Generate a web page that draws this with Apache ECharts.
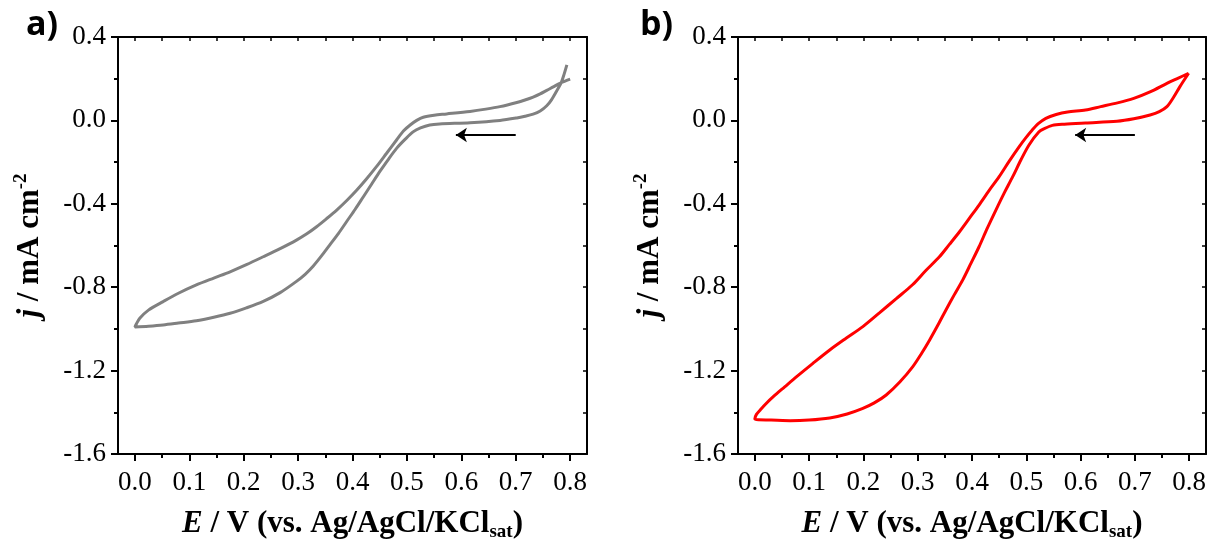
<!DOCTYPE html>
<html>
<head>
<meta charset="utf-8">
<style>
  html, body { margin: 0; padding: 0; background: #fff; }
  #chart { width: 1209px; height: 539px; }
</style>
<script src="https://cdn.jsdelivr.net/npm/echarts@6/dist/echarts.min.js"></script>
</head>
<body>
<div id="chart"></div>
<script>
// ---- Tick values ----
const xTicks = [0, 0.1, 0.2, 0.3, 0.4, 0.5, 0.6, 0.7, 0.8];
const xMinorTicks = [0.05, 0.15, 0.25, 0.35, 0.45, 0.55, 0.65, 0.75];
const xTopTicks = [0, 0.05, 0.1, 0.15, 0.2, 0.25, 0.3, 0.35, 0.4, 0.45, 0.5, 0.55, 0.6, 0.65, 0.7, 0.75, 0.8];
const yTicks = [-1.6, -1.2, -0.8, -0.4, 0, 0.4];
const yMinorTicks = [-1.4, -1.0, -0.6, -0.2, 0.2];
const yRightTicks = [-1.4, -1.2, -1.0, -0.8, -0.6, -0.4, -0.2, 0, 0.2];
const panelLabels = ['a)', 'b)'];

// ---- Panel a (grey CV) ----
const aPotential = [0.794, 0.789, 0.784, 0.775, 0.766, 0.757, 0.745, 0.732, 0.717, 0.702, 0.671, 0.616, 0.56, 0.542, 0.525, 0.512, 0.497, 0.481, 0.465, 0.45, 0.435, 0.42, 0.405, 0.389, 0.374, 0.358, 0.343, 0.328, 0.313, 0.297, 0.267, 0.236, 0.205, 0.175, 0.145, 0.113, 0.08, 0.052, 0.025, 0.0,
  0.003, 0.009, 0.025, 0.052, 0.08, 0.113, 0.145, 0.175, 0.205, 0.236, 0.267, 0.297, 0.316, 0.334, 0.352, 0.371, 0.39, 0.408, 0.426, 0.444, 0.462, 0.481, 0.494, 0.506, 0.518, 0.53, 0.55, 0.573, 0.616, 0.645, 0.671, 0.702, 0.717, 0.732, 0.745, 0.757, 0.77, 0.781, 0.80];
const aCurrent = [0.266, 0.222, 0.184, 0.14, 0.1, 0.07, 0.045, 0.03, 0.02, 0.012, 0.0, -0.011, -0.017, -0.022, -0.036, -0.054, -0.09, -0.134, -0.19, -0.246, -0.306, -0.366, -0.426, -0.486, -0.543, -0.598, -0.65, -0.698, -0.738, -0.772, -0.826, -0.868, -0.899, -0.925, -0.944, -0.961, -0.972, -0.981, -0.987, -0.991,
  -0.975, -0.949, -0.91, -0.869, -0.829, -0.789, -0.756, -0.726, -0.692, -0.654, -0.615, -0.574, -0.544, -0.51, -0.472, -0.43, -0.383, -0.334, -0.28, -0.222, -0.16, -0.094, -0.05, -0.022, 0.0, 0.015, 0.025, 0.031, 0.043, 0.054, 0.066, 0.086, 0.098, 0.112, 0.127, 0.144, 0.162, 0.178, 0.198];

// ---- Panel b (red CV) ----
const bPotential = [0.799, 0.783, 0.771, 0.759, 0.745, 0.728, 0.698, 0.667, 0.609, 0.57, 0.548, 0.533, 0.523, 0.505, 0.49, 0.475, 0.459, 0.444, 0.428, 0.413, 0.398, 0.383, 0.367, 0.352, 0.338, 0.322, 0.307, 0.291, 0.267, 0.242, 0.22, 0.199, 0.17, 0.138, 0.10, 0.065, 0.03, 0.0,
  0.003, 0.01, 0.02, 0.034, 0.055, 0.077, 0.107, 0.138, 0.168, 0.199, 0.23, 0.26, 0.291, 0.315, 0.34, 0.358, 0.377, 0.395, 0.413, 0.431, 0.45, 0.468, 0.487, 0.499, 0.511, 0.522, 0.536, 0.555, 0.576, 0.609, 0.637, 0.668, 0.698, 0.729, 0.759, 0.78, 0.799];
const bCurrent = [0.226, 0.162, 0.11, 0.066, 0.042, 0.026, 0.008, -0.004, -0.012, -0.018, -0.024, -0.04, -0.056, -0.118, -0.19, -0.27, -0.35, -0.43, -0.518, -0.606, -0.686, -0.765, -0.838, -0.909, -0.978, -1.053, -1.118, -1.181, -1.255, -1.317, -1.355, -1.381, -1.408, -1.427, -1.437, -1.44, -1.437, -1.432,
  -1.41, -1.389, -1.36, -1.325, -1.278, -1.229, -1.165, -1.101, -1.045, -0.989, -0.922, -0.856, -0.787, -0.72, -0.654, -0.596, -0.534, -0.47, -0.406, -0.338, -0.27, -0.198, -0.126, -0.084, -0.046, -0.016, 0.01, 0.028, 0.04, 0.05, 0.066, 0.084, 0.106, 0.138, 0.178, 0.203, 0.226];

// ---- Scan direction arrows ----
const arrowPotential = [0.7, 0.59];
const arrowCurrent = [-0.07, -0.07];

const X_MIN = -0.031, X_MAX = 0.831, Y_MIN = -1.6, Y_MAX = 0.4;
const FONT = 'Liberation Serif';

const grids = [
  { left: 118, top: 37, width: 469, height: 417, containLabel: false, outerBoundsMode: 'none' },
  { left: 738, top: 37, width: 468, height: 417, containLabel: false, outerBoundsMode: 'none' }
];

const xName = '{i|E}{b| / V (vs. Ag/AgCl/KCl}{sub|sat}{b|)}';
const yName = '{i|j}{b| / mA cm}{sup|-2}';
const nameRich = {
  i: { fontFamily: FONT, fontWeight: 'bold', fontStyle: 'italic', fontSize: 31, color: '#000', lineHeight: 36 },
  b: { fontFamily: FONT, fontWeight: 'bold', fontSize: 31, color: '#000', lineHeight: 36 },
  sub: { fontFamily: FONT, fontWeight: 'bold', fontSize: 19, color: '#000', verticalAlign: 'bottom', lineHeight: 36, padding: [22, 0, 0, 0] },
  sup: { fontFamily: FONT, fontWeight: 'bold', fontSize: 19, color: '#000', verticalAlign: 'top', lineHeight: 36, padding: [0, 0, 16, 0] }
};

const lineStyle = { color: '#000', width: 2 };
const xAxes = [], yAxes = [];
grids.forEach((g, gi) => {
  xAxes.push({
    gridIndex: gi, type: 'value', min: X_MIN, max: X_MAX, position: 'bottom',
    axisLine: { show: true, onZero: false, lineStyle },
    axisTick: { show: true, inside: false, length: 7, customValues: xTicks, lineStyle },
    axisLabel: { show: true, customValues: xTicks, formatter: v => v.toFixed(1), fontFamily: FONT, fontSize: 27, color: '#000', margin: 15 },
    splitLine: { show: false },
    name: xName, nameLocation: 'middle', nameGap: 50,
    nameTextStyle: { rich: nameRich }
  });
  xAxes.push({
    gridIndex: gi, type: 'value', min: X_MIN, max: X_MAX, position: 'bottom',
    axisLine: { show: false, onZero: false },
    axisTick: { show: true, inside: false, length: 4, customValues: xMinorTicks, lineStyle },
    axisLabel: { show: false }, splitLine: { show: false }
  });
  xAxes.push({
    gridIndex: gi, type: 'value', min: X_MIN, max: X_MAX, position: 'top',
    axisLine: { show: true, onZero: false, lineStyle },
    axisTick: { show: true, inside: true, length: 4, customValues: xTopTicks, lineStyle: { color: '#000', width: 1.5 } },
    axisLabel: { show: false }, splitLine: { show: false }
  });
  yAxes.push({
    gridIndex: gi, type: 'value', min: Y_MIN, max: Y_MAX, position: 'left',
    axisLine: { show: true, onZero: false, lineStyle },
    axisTick: { show: true, inside: false, length: 7, customValues: yTicks, lineStyle },
    axisLabel: { show: true, customValues: yTicks, formatter: v => v.toFixed(1), fontFamily: FONT, fontSize: 27, color: '#000', margin: 12 },
    splitLine: { show: false },
    name: yName, nameLocation: 'middle', nameGap: 70, nameRotate: 90,
    nameTextStyle: { rich: nameRich }
  });
  yAxes.push({
    gridIndex: gi, type: 'value', min: Y_MIN, max: Y_MAX, position: 'left',
    axisLine: { show: false, onZero: false },
    axisTick: { show: true, inside: false, length: 4, customValues: yMinorTicks, lineStyle },
    axisLabel: { show: false }, splitLine: { show: false }
  });
  yAxes.push({
    gridIndex: gi, type: 'value', min: Y_MIN, max: Y_MAX, position: 'right',
    axisLine: { show: true, onZero: false, lineStyle },
    axisTick: { show: true, inside: true, length: 4, customValues: yRightTicks, lineStyle: { color: '#000', width: 1.5 } },
    axisLabel: { show: false }, splitLine: { show: false }
  });
});

function pairs(xs, ys) { return xs.map((x, i) => [x, ys[i]]); }

const series = [
  { type: 'line', xAxisIndex: 0, yAxisIndex: 0, data: pairs(aPotential, aCurrent), showSymbol: false, smooth: 0.3,
    lineStyle: { color: '#808080', width: 3 }, silent: true, animation: false },
  { type: 'line', xAxisIndex: 3, yAxisIndex: 3, data: pairs(bPotential, bCurrent), showSymbol: false, smooth: 0.3,
    lineStyle: { color: '#ff0000', width: 3 }, silent: true, animation: false },
  { type: 'lines', coordinateSystem: 'cartesian2d', xAxisIndex: 0, yAxisIndex: 0, symbol: ['none', 'arrow'], symbolSize: 11,
    lineStyle: { color: '#000', width: 2, opacity: 1 }, data: [{ coords: pairs(arrowPotential, arrowCurrent) }], animation: false },
  { type: 'lines', coordinateSystem: 'cartesian2d', xAxisIndex: 3, yAxisIndex: 3, symbol: ['none', 'arrow'], symbolSize: 11,
    lineStyle: { color: '#000', width: 2, opacity: 1 }, data: [{ coords: pairs(arrowPotential, arrowCurrent) }], animation: false }
];

const chart = echarts.init(document.getElementById('chart'), null, { renderer: 'canvas' });
chart.setOption({
  animation: false,
  backgroundColor: '#fff',
  grid: grids,
  xAxis: xAxes,
  yAxis: yAxes,
  series: series,
  graphic: [
    { type: 'text', left: 26, top: 8, style: { text: panelLabels[0], font: 'bold 34px "Open Sans"', fill: '#000' } },
    { type: 'text', left: 640, top: 8, style: { text: panelLabels[1], font: 'bold 34px "Open Sans"', fill: '#000' } }
  ]
});
</script>
</body>
</html>
